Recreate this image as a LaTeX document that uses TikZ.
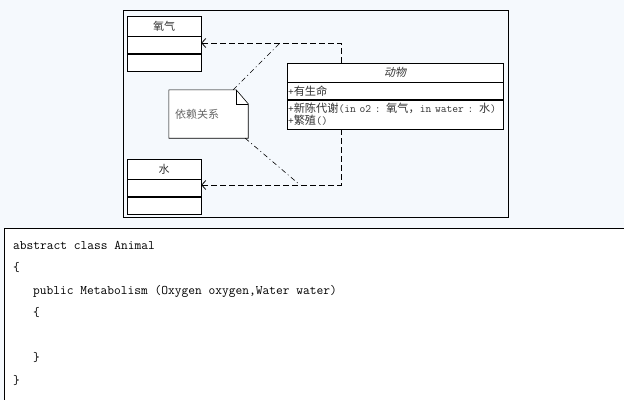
\documentclass[tikz,border=0pt]{standalone}
\usepackage{fontspec}
\usepackage{tikz}
\usetikzlibrary{positioning, arrows.meta}
\newfontfamily\cjk{Noto Sans CJK SC}
\newfontfamily\cjkit[FakeSlant=0.2]{Noto Sans CJK SC}
\definecolor{canvasblue}{HTML}{F5F9FD}
\definecolor{textgrey}{HTML}{333333}
\definecolor{notegrey}{HTML}{666666}

\begin{document}
\begin{tikzpicture}[x=1pt, y=-1pt,
    classhead/.style={draw, fill=white, minimum width=74pt, minimum height=20pt,
        inner sep=0pt, text=textgrey, font=\cjk\fontsize{11}{12}\selectfont},
    classpart/.style={draw, fill=white, minimum width=74pt, minimum height=17pt, inner sep=0pt},
    bighead/.style={classhead, minimum width=216pt, minimum height=19pt, font=\cjkit\fontsize{11}{12}\selectfont},
    bigpart/.style={draw, fill=white, text width=214pt, inner xsep=1pt, inner ysep=0pt,
        align=left, text=textgrey, font=\ttfamily\fontsize{11.2}{12}\selectfont},
    notebox/.style={fill=white, minimum height=48pt, text width=67pt, inner xsep=6pt,
        align=left, text=notegrey, font=\cjk\fontsize{11}{12}\selectfont},
    dep/.style={dash pattern=on 6pt off 3pt, line width=0.8pt},
    notelink/.style={dash pattern=on 5pt off 3pt on 1pt off 3pt, line width=0.6pt},
    codeline/.style={anchor=base west, inner sep=0pt, font=\ttfamily\fontsize{13.1}{15}\selectfont}
]

    % fond et cadres
    \useasboundingbox (0,0) rectangle (624,400);
    \fill[canvasblue] (0,0) rectangle (624,400);
    \draw[line width=0.8pt] (123,10) rectangle (508,217);
    \fill[white] (4,228) rectangle (624,400);
    \draw[line width=0.8pt] (624,228) -- (4,228) -- (4,400);

    % classe oxygene
    \node[classhead] (oxyhead) at (164,26) {氧气};
    \node[classpart, below=0pt of oxyhead] (oxyattr) {};
    \node[classpart, below=0pt of oxyattr] (oxyop) {};

    % classe eau
    \node[classhead] (waterhead) at (164,169) {水};
    \node[classpart, below=0pt of waterhead] (waterattr) {};
    \node[classpart, below=0pt of waterattr] (waterop) {};

    % classe animal
    \node[bighead] (animalhead) at (395,72.5) {动物};
    \node[bigpart, minimum height=17pt, below=0pt of animalhead] (animalattr) {+{\cjk 有生命}};
    \node[bigpart, minimum height=29pt, below=0pt of animalattr] (animalop)
        {+{\cjk 新陈代谢}(in o2 : {\cjk 氧气，}in water : {\cjk 水})\\+{\cjk 繁殖}()};

    % note
    \node[notebox] (note) at (208.5,114) {依赖关系};
    \fill[canvasblue] ([xshift=-12pt]note.north east) -- (note.north east)
        -- ([yshift=-14pt]note.north east) -- cycle;
    \draw[line width=0.6pt] (note.north west) -- ([xshift=-12pt]note.north east)
        -- ([yshift=-14pt]note.north east) -- (note.south east) -- (note.south west) -- cycle;
    \draw[line width=0.6pt] ([xshift=-12pt]note.north east) |- ([yshift=-14pt]note.north east);

    % dependances
    \coordinate (upbend) at (341,43);
    \coordinate (downbend) at (341,185);
    \draw[dep, -{Straight Barb[length=4pt, width=9pt]}]
        (upbend |- animalhead.north) -- (upbend) -- (upbend -| oxyattr.east);
    \draw[dep, -{Straight Barb[length=4pt, width=9pt]}]
        (downbend |- animalop.south) -- (downbend) -- (downbend -| waterattr.east);

    % liens de la note
    \coordinate (toplink) at (280,43);
    \coordinate (botlink) at (300,185);
    \draw[notelink] ([xshift=-15pt]note.north east) -- (toplink);
    \draw[notelink] ([xshift=-3pt]note.south east) -- (botlink);

    % code
    \node[codeline] (codeA) at (13,249) {abstract class Animal};
    \node[codeline] (codeB) at (13,271.5) {\{};
    \node[codeline] (codeC) at (33,294) {public Metabolism (Oxygen oxygen,Water water)};
    \node[codeline] (codeD) at (33,316.5) {\{};
    \node[codeline] (codeE) at (33,361.5) {\}};
    \node[codeline] (codeF) at (13,384) {\}};

\end{tikzpicture}
\end{document}
